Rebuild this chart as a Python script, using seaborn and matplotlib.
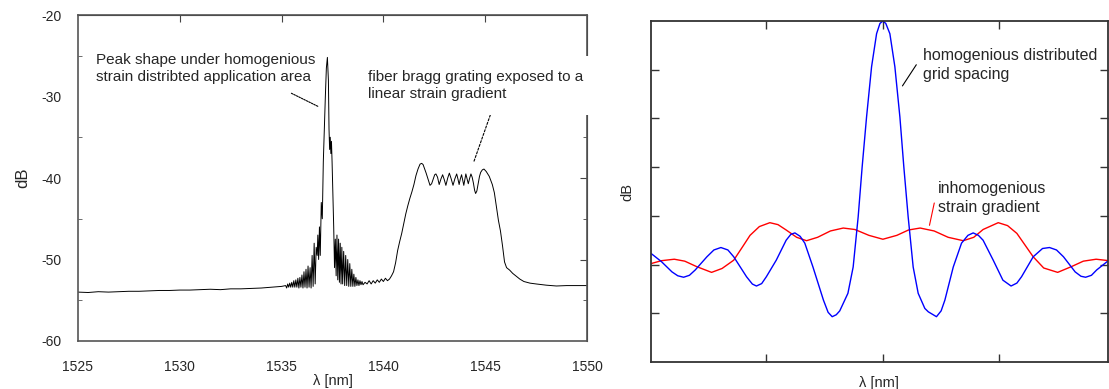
import matplotlib
matplotlib.use("Agg")
import matplotlib.pyplot as plt
import seaborn as sns
import pandas as pd

sns.set_style("white")
plt.rcParams["font.family"] = ["Liberation Sans", "DejaVu Sans"]
plt.rcParams["axes.unicode_minus"] = False

base_wl = [1525.0, 1525.5, 1526.0, 1526.5, 1527.0, 1527.5, 1528.0, 1528.5, 1529.0, 1529.5,
           1530.0, 1530.5, 1531.0, 1531.5, 1532.0, 1532.5, 1533.0, 1533.5, 1534.0, 1534.5, 1535.0]
base_db = [-54.0, -54.05, -53.95, -54.0, -53.95, -53.9, -53.9, -53.85, -53.8, -53.8,
           -53.75, -53.75, -53.7, -53.65, -53.7, -53.6, -53.6, -53.55, -53.5, -53.4, -53.3]

peak_wl = [1535.20, 1535.25, 1535.30, 1535.35, 1535.40, 1535.45, 1535.50, 1535.55, 1535.60, 1535.65,
           1535.70, 1535.75, 1535.80, 1535.85, 1535.90, 1535.95, 1536.00, 1536.05, 1536.10, 1536.15,
           1536.20, 1536.25, 1536.30, 1536.35, 1536.40, 1536.45, 1536.50, 1536.55, 1536.60, 1536.65,
           1536.70, 1536.75, 1536.78, 1536.82, 1536.86, 1536.90, 1536.95, 1537.00, 1537.05, 1537.10,
           1537.15, 1537.20, 1537.25, 1537.30, 1537.33, 1537.36, 1537.39, 1537.42, 1537.45, 1537.48,
           1537.52, 1537.56, 1537.60, 1537.64, 1537.68, 1537.72, 1537.76, 1537.80, 1537.84, 1537.88,
           1537.92, 1537.96, 1538.00, 1538.05, 1538.10, 1538.15, 1538.20, 1538.25, 1538.30, 1538.35,
           1538.40, 1538.45, 1538.50, 1538.55, 1538.60, 1538.65, 1538.70, 1538.75, 1538.80, 1538.85,
           1538.90, 1538.95, 1539.00, 1539.1, 1539.2, 1539.3, 1539.4, 1539.5, 1539.6, 1539.7,
           1539.8, 1539.9, 1540.0, 1540.1, 1540.2, 1540.3]
peak_db = [-53.2, -53.5, -53.0, -53.4, -52.9, -53.4, -52.8, -53.4, -52.6, -53.4,
           -52.5, -53.4, -52.3, -53.5, -52.2, -53.4, -51.9, -53.5, -51.5, -53.4,
           -51.2, -53.5, -50.8, -53.4, -51.0, -53.5, -49.5, -53.3, -48.0, -53.0,
           -48.5, -49.5, -47.0, -50.0, -46.0, -49.5, -43.0, -45.0, -38.0, -34.0,
           -30.0, -26.5, -25.2, -28.0, -34.0, -36.5, -35.0, -37.0, -35.5, -38.0,
           -42.0, -46.0, -51.0, -47.5, -52.0, -47.0, -52.5, -47.5, -52.8, -48.0,
           -53.0, -48.5, -53.0, -49.0, -53.2, -49.5, -53.2, -50.0, -53.3, -50.5,
           -53.3, -51.2, -53.3, -51.8, -53.3, -52.2, -53.2, -52.5, -53.2, -52.6,
           -53.1, -52.7, -53.1, -52.8, -53.0, -52.6, -53.0, -52.6, -52.9, -52.5,
           -52.8, -52.4, -52.7, -52.3, -52.6, -52.4]

band_wl = [1540.4, 1540.5, 1540.6, 1540.7, 1540.8, 1540.9, 1541.0, 1541.1, 1541.2, 1541.3,
           1541.4, 1541.5, 1541.6, 1541.7, 1541.8, 1541.88, 1541.95, 1542.0, 1542.1, 1542.2, 1542.29,
           1542.37, 1542.45, 1542.52, 1542.58, 1542.66, 1542.74, 1542.83, 1542.91, 1542.99, 1543.07,
           1543.16, 1543.24, 1543.33, 1543.42, 1543.51, 1543.60, 1543.66, 1543.72, 1543.78, 1543.84,
           1543.90, 1543.95, 1544.00, 1544.05, 1544.11, 1544.17, 1544.24, 1544.30, 1544.36, 1544.42,
           1544.48, 1544.53, 1544.59, 1544.65, 1544.72, 1544.78, 1544.86, 1544.94, 1545.05,
           1545.2, 1545.35, 1545.45, 1545.55, 1545.65, 1545.75, 1545.85, 1545.95, 1546.05, 1546.2,
           1546.35, 1546.5, 1546.7, 1546.9, 1547.2, 1547.5, 1548.0, 1548.5, 1549.0, 1549.5, 1550.0]
band_db = [-52.0, -51.5, -50.4, -48.9, -47.8, -46.8, -45.6, -44.4, -43.4, -42.5,
           -41.7, -40.8, -39.7, -38.9, -38.3, -38.2, -38.35, -38.7, -39.4, -40.2, -40.9,
           -40.7, -40.1, -39.6, -39.5, -39.9, -40.8, -40.1, -39.6, -40.2, -40.9,
           -40.0, -39.4, -40.1, -40.9, -40.1, -39.5, -40.1, -40.8, -40.1, -39.6,
           -40.3, -40.9, -40.2, -39.5, -40.1, -40.7, -40.0, -39.5, -39.9, -40.6,
           -41.5, -41.9, -41.6, -40.8, -39.8, -39.3, -39.0, -38.9, -39.2,
           -39.8, -40.8, -41.8, -43.5, -45.2, -46.5, -48.3, -50.3, -51.0, -51.3,
           -51.7, -52.0, -52.4, -52.7, -52.9, -53.0, -53.15, -53.25, -53.2, -53.2, -53.2]

# right panel: schematic spectra (arbitrary units)
homog_x = [-1.99, -1.90, -1.81, -1.76, -1.71, -1.66, -1.61, -1.51, -1.45, -1.39,
           -1.33, -1.28, -1.17, -1.12, -1.085, -1.04, -1.00, -0.915, -0.83, -0.79,
           -0.755, -0.71, -0.67, -0.60, -0.51, -0.47, -0.435, -0.40, -0.37, -0.30,
           -0.255, -0.212, -0.178, -0.14, -0.097, -0.054, -0.025, 0.0, 0.025, 0.06,
           0.103, 0.146, 0.18, 0.217, 0.26, 0.303, 0.36, 0.39, 0.46, 0.50,
           0.532, 0.604, 0.675, 0.73, 0.775, 0.82, 0.86, 0.947, 1.03, 1.10,
           1.15, 1.19, 1.29, 1.37, 1.43, 1.49, 1.55, 1.65, 1.70, 1.74,
           1.79, 1.835, 1.94]
homog_y = [2.23, 2.06, 1.85, 1.77, 1.74, 1.78, 1.89, 2.16, 2.30, 2.35,
           2.30, 2.16, 1.75, 1.60, 1.56, 1.61, 1.75, 2.09, 2.50, 2.62,
           2.65, 2.58, 2.44, 1.95, 1.27, 1.02, 0.93, 0.97, 1.05, 1.41,
           1.95, 2.98, 4.00, 5.03, 6.06, 6.74, 6.95, 7.0, 6.95, 6.74,
           6.06, 5.03, 4.0, 2.98, 1.95, 1.41, 1.10, 1.03, 0.93, 1.05,
           1.27, 1.95, 2.44, 2.60, 2.65, 2.60, 2.50, 2.09, 1.68, 1.56,
           1.62, 1.75, 2.16, 2.33, 2.35, 2.30, 2.16, 1.85, 1.76, 1.74,
           1.78, 1.89, 2.09]

inhomog_x = [-1.99, -1.90, -1.79, -1.70, -1.60, -1.47, -1.38, -1.28, -1.20, -1.14,
             -1.06, -0.97, -0.90, -0.83, -0.74, -0.655, -0.56, -0.45, -0.34, -0.24,
             -0.12, 0.0, 0.12, 0.22, 0.32, 0.44, 0.56, 0.69, 0.78, 0.86,
             0.99, 1.07, 1.15, 1.22, 1.29, 1.38, 1.50, 1.62, 1.72, 1.83, 1.94]
inhomog_y = [2.02, 2.08, 2.11, 2.07, 1.96, 1.84, 1.92, 2.09, 2.38, 2.60,
             2.78, 2.86, 2.82, 2.71, 2.56, 2.49, 2.56, 2.69, 2.75, 2.72,
             2.60, 2.52, 2.60, 2.71, 2.75, 2.69, 2.56, 2.49, 2.56, 2.72,
             2.86, 2.80, 2.64, 2.40, 2.16, 1.93, 1.84, 1.96, 2.07, 2.11, 2.08]

spec = pd.DataFrame({"wl": base_wl + peak_wl + band_wl,
                     "db": base_db + peak_db + band_db})

fig = plt.figure(figsize=(11.09, 3.89), dpi=100)
ax1 = fig.add_axes([0.0703, 0.1234, 0.459, 0.838])
ax2 = fig.add_axes([0.587, 0.0694, 0.412, 0.8766])

# ---- left panel
sns.lineplot(data=spec, x="wl", y="db", ax=ax1, color="black", lw=0.7,
             sort=False, estimator=None)
ax1.set_xlim(1525, 1550)
ax1.set_ylim(-60, -20)
ax1.set_xticks([1525, 1530, 1535, 1540, 1545, 1550])
ax1.set_yticks([-60, -50, -40, -30, -20])
ax1.set_yticks([-55, -45, -35, -25], minor=True)
ax1.tick_params(which="major", direction="out", length=3, width=1, color="#555555",
                labelsize=10, pad=9)
ax1.tick_params(axis="y", which="minor", direction="in", length=3, color="#555555", left=True)
ax1.tick_params(axis="x", pad=10.5)
for s in ax1.spines.values():
    s.set_color("#555555")
    s.set_linewidth(1.2)
top = ax1.secondary_xaxis("top")
top.set_xticks([1530, 1535, 1540, 1545])
top.tick_params(direction="in", length=5, color="#444444", labeltop=False)
right = ax1.secondary_yaxis("right")
right.set_yticks([-50, -40, -30])
right.set_yticks([-55, -45, -35, -25], minor=True)
right.tick_params(direction="in", length=5, color="#444444", labelright=False)
right.tick_params(which="minor", direction="in", length=3, color="#444444")
ax1.set_xlabel("λ [nm]", fontsize=10.5, labelpad=0)
ax1.set_ylabel("dB", fontsize=12, labelpad=8)

ax1.text(1525.88, -26.6, "Peak shape under homogenious\nstrain distribted application area",
         fontsize=11, va="center", ha="left", linespacing=1.3)
ax1.annotate("", xy=(1536.94, -31.4), xytext=(1535.36, -29.45),
             arrowprops=dict(arrowstyle="-", lw=0.8, linestyle=(0, (1.5, 1)), color="black"))
ax1.text(1539.24, -28.65, "fiber bragg grating exposed to a\nlinear strain gradient",
         fontsize=11, va="center", ha="left", linespacing=1.3, clip_on=False, zorder=5,
         bbox=dict(boxstyle="square,pad=0.9", fc="white", ec="none"))
ax1.annotate("", xy=(1544.4, -38.3), xytext=(1545.36, -31.5),
             arrowprops=dict(arrowstyle="-", lw=0.8, linestyle=(0, (2, 1.5)), color="black"))

# ---- right panel
sns.lineplot(x=inhomog_x, y=inhomog_y, ax=ax2, color="#ff0000", lw=1.0, sort=False, estimator=None)
sns.lineplot(x=homog_x, y=homog_y, ax=ax2, color="#0000ff", lw=1.0, sort=False, estimator=None)
ax2.set_xlim(-1.99, 1.931)
ax2.set_ylim(0, 7)
ax2.set_xticks([-1, 0, 1])
ax2.set_yticks([1, 2, 3, 4, 5, 6])
ax2.tick_params(direction="in", length=6, width=1, color="#333333", top=True, right=True,
                bottom=True, left=True, labelleft=False, labelbottom=False)
for s in ax2.spines.values():
    s.set_color("#333333")
    s.set_linewidth(1.3)
ax2.set_xlabel("λ [nm]", fontsize=10.5, labelpad=10)
ax2.set_ylabel("dB", fontsize=10.5, labelpad=12)

ax2.text(0.343, 6.09, "homogenious distributed\ngrid spacing", fontsize=11.5,
         va="center", ha="left", linespacing=1.35)
ax2.annotate("", xy=(0.155, 5.62), xytext=(0.30, 6.15),
             arrowprops=dict(arrowstyle="-", lw=0.8, color="black"))
ax2.text(0.472, 3.37, "inhomogenious\nstrain gradient", fontsize=11.5,
         va="center", ha="left", linespacing=1.3)
ax2.annotate("", xy=(0.395, 2.75), xytext=(0.446, 3.32),
             arrowprops=dict(arrowstyle="-", lw=0.8, color="#ff0000"))

fig.savefig("out.png", dpi=100)
